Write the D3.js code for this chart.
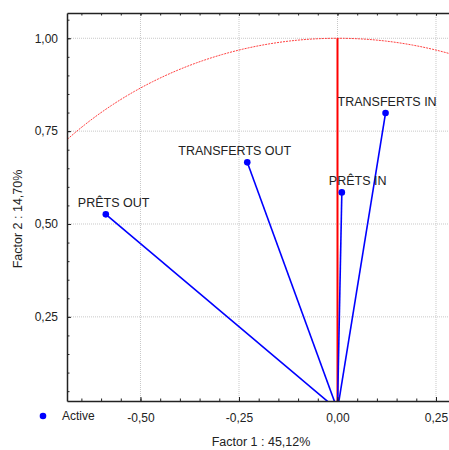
<!DOCTYPE html>
<html>
<head>
<meta charset="utf-8">
<script src="https://cdn.jsdelivr.net/npm/d3@7"></script>
<style>
  body { margin: 0; background: #fff; }
  text { font-family: "Liberation Sans", Arial, sans-serif; fill: #222; }
</style>
</head>
<body>
<div id="chart"></div>
<script>
// variables and their coordinates on factor 1 / factor 2
var labels = ["PRÊTS OUT", "TRANSFERTS OUT", "TRANSFERTS IN", "PRÊTS IN"];
var factor1 = [-0.588, -0.229, 0.122, 0.011];
var factor2 = [0.526, 0.666, 0.799, 0.585];

var xTicks = [-0.50, -0.25, 0.00, 0.25];
var yTicks = [0.25, 0.50, 0.75, 1.00];
var xTitle = "Factor 1 : 45,12%";
var yTitle = "Factor 2 : 14,70%";
var legendLabel = "Active";

// label offsets (px) relative to the point
var labelDx = [-28, -69, -48, -13];

var W = 449, H = 450;
var pLeft = 67, pRight = 449, pTop = 13, pBottom = 401;

var svg = d3.select("#chart")
  .append("svg")
    .attr("width", W)
    .attr("height", H);

var x = d3.scaleLinear()
  .domain([-0.6865, 0.283])
  .range([pLeft, pRight]);

var y = d3.scaleLinear()
  .domain([0.0235, 1.068])
  .range([pBottom, pTop]);

var fmt = function(d) { return d3.format(".2f")(d).replace(".", ",").replace("−", "-"); };

svg.append("defs").append("clipPath")
    .attr("id", "clip")
  .append("rect")
    .attr("x", pLeft)
    .attr("y", pTop)
    .attr("width", pRight - pLeft)
    .attr("height", pBottom - pTop);

// grid
svg.append("g")
  .selectAll("line")
  .data(xTicks)
  .enter().append("line")
    .attr("x1", function(d) { return x(d); })
    .attr("x2", function(d) { return x(d); })
    .attr("y1", pTop)
    .attr("y2", pBottom)
    .attr("stroke", "#c8c8c8")
    .attr("stroke-dasharray", "1,1");

svg.append("g")
  .selectAll("line")
  .data(yTicks)
  .enter().append("line")
    .attr("x1", pLeft)
    .attr("x2", pRight)
    .attr("y1", function(d) { return y(d); })
    .attr("y2", function(d) { return y(d); })
    .attr("stroke", "#c8c8c8")
    .attr("stroke-dasharray", "1,1");

var plot = svg.append("g").attr("clip-path", "url(#clip)");

// unit circle
var arc = d3.range(0, 181, 1).map(function(a) {
  var r = a * Math.PI / 180;
  return [Math.cos(r), Math.sin(r)];
});
plot.append("path")
  .datum(arc)
  .attr("d", d3.line()
    .x(function(d) { return x(d[0]); })
    .y(function(d) { return y(d[1]); }))
  .attr("fill", "none")
  .attr("stroke", "#ff4040")
  .attr("stroke-width", 1)
  .attr("stroke-dasharray", "2,1");

// vertical red axis
plot.append("line")
  .attr("x1", x(0))
  .attr("x2", x(0))
  .attr("y1", y(0))
  .attr("y2", y(1))
  .attr("stroke", "#ff0000")
  .attr("stroke-width", 2);

// vectors
plot.selectAll(".vec")
  .data(labels)
  .enter().append("line")
    .attr("class", "vec")
    .attr("x1", x(0))
    .attr("y1", y(0))
    .attr("x2", function(d, i) { return x(factor1[i]); })
    .attr("y2", function(d, i) { return y(factor2[i]); })
    .attr("stroke", "#0000ff")
    .attr("stroke-width", 1.6);

plot.selectAll(".pt")
  .data(labels)
  .enter().append("circle")
    .attr("class", "pt")
    .attr("cx", function(d, i) { return x(factor1[i]); })
    .attr("cy", function(d, i) { return y(factor2[i]); })
    .attr("r", 3.3)
    .attr("fill", "#0000ff");

svg.selectAll(".lbl")
  .data(labels)
  .enter().append("text")
    .attr("class", "lbl")
    .attr("x", function(d, i) { return x(factor1[i]) + labelDx[i]; })
    .attr("y", function(d, i) { return y(factor2[i]) - 7; })
    .attr("font-size", 12.5)
    .text(function(d) { return d; });

// axes
var xMinor = d3.range(-0.65, 0.29, 0.05);
var yMinor = d3.range(0.05, 1.06, 0.05);

function styleAxis(g) {
  g.select(".domain").attr("stroke", "#222").attr("stroke-width", 1.5);
  g.selectAll(".tick line").attr("stroke", "#222");
  g.selectAll("text").attr("font-size", 12).attr("fill", "#222")
    .attr("font-family", "Liberation Sans, Arial, sans-serif");
}

svg.append("g")
  .attr("transform", "translate(0," + pBottom + ")")
  .call(d3.axisBottom(x).tickValues(xMinor).tickSize(-2.5).tickSizeOuter(0).tickFormat(""))
  .call(styleAxis);

svg.append("g")
  .attr("transform", "translate(0," + pBottom + ")")
  .call(d3.axisBottom(x).tickValues(xTicks).tickSize(-4).tickSizeOuter(0).tickPadding(12).tickFormat(fmt))
  .call(styleAxis)
  .call(function(g) { g.select(".domain").remove(); });

svg.append("g")
  .attr("transform", "translate(0," + pTop + ")")
  .call(d3.axisTop(x).tickValues(xMinor.concat(xTicks)).tickSize(-2.5).tickSizeOuter(0).tickFormat(""))
  .call(styleAxis);

svg.append("g")
  .attr("transform", "translate(" + pLeft + ",0)")
  .call(d3.axisLeft(y).tickValues(yMinor).tickSize(-2.5).tickSizeOuter(0).tickFormat(""))
  .call(styleAxis);

svg.append("g")
  .attr("transform", "translate(" + pLeft + ",0)")
  .call(d3.axisLeft(y).tickValues(yTicks).tickSize(-4).tickSizeOuter(0).tickPadding(9).tickFormat(fmt))
  .call(styleAxis)
  .call(function(g) { g.select(".domain").remove(); });

// titles
svg.append("text")
  .attr("x", 261)
  .attr("y", 446)
  .attr("text-anchor", "middle")
  .attr("font-size", 12.5)
  .text(xTitle);

svg.append("text")
  .attr("transform", "translate(22,219)rotate(-90)")
  .attr("text-anchor", "middle")
  .attr("font-size", 12.5)
  .text(yTitle);

// legend
svg.append("circle")
  .attr("cx", 43)
  .attr("cy", 416)
  .attr("r", 3.3)
  .attr("fill", "#0000ff");

svg.append("text")
  .attr("x", 62)
  .attr("y", 420)
  .attr("font-size", 12)
  .text(legendLabel);
</script>
</body>
</html>
